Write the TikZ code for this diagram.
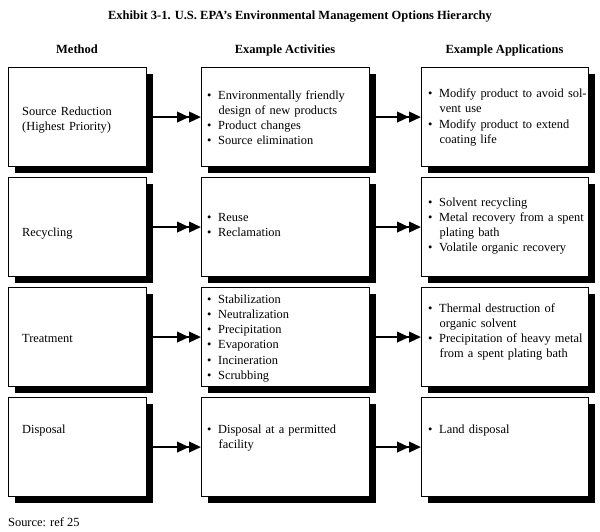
\documentclass[tikz,border=0pt]{standalone}
\usepackage{fontspec}
\setmainfont{Liberation Serif}
\usetikzlibrary{arrows.meta,shadows}
\newcommand\bl{\makebox[11pt][l]{\textbullet}}
\newcommand\ct{\hspace*{11.5pt}}
\begin{document}
\begin{tikzpicture}[x=1pt,y=1pt,
  box/.style={draw=black, line width=1.1pt, fill=white, inner sep=0pt, anchor=north west,
    minimum height=99pt,
    drop shadow={shadow xshift=6pt, shadow yshift=-6pt, opacity=1, fill=black}},
  box1/.style={box, minimum width=138pt},
  box2/.style={box, minimum width=168pt},
  box3/.style={box, minimum width=167pt},
  txt/.style={anchor=base west, inner sep=0pt, text width=175pt, align=left,
    font=\fontsize{12.4}{15.3}\selectfont},
  head/.style={anchor=base, inner sep=0pt, font=\fontsize{12.5}{15}\selectfont\bfseries},
  arr/.style={line width=2.4pt, -{Triangle[length=12pt,width=10.5pt]Triangle[length=12pt,width=10.5pt]}}
]
\useasboundingbox[fill=white] (0,0) rectangle (600,-531);

\node[head] (title) at (300,-19) {Exhibit 3-1. U.S. EPA’s Environmental Management Options Hierarchy};
\node[head] (h1) at (77,-53) {Method};
\node[head] (h2) at (285,-53) {Example Activities};
\node[head] (h3) at (504.5,-53) {Example Applications};

% row 1
\node[box1] (m1) at (8,-67) {};
\node[box2] (a1) at (201,-67) {};
\node[box3] (p1) at (421,-67) {};
% row 2
\node[box1] (m2) at (8,-177) {};
\node[box2] (a2) at (201,-177) {};
\node[box3] (p2) at (421,-177) {};
% row 3
\node[box1] (m3) at (8,-287) {};
\node[box2] (a3) at (201,-287) {};
\node[box3] (p3) at (421,-287) {};
% row 4
\node[box1] (m4) at (8,-397) {};
\node[box2] (a4) at (201,-397) {};
\node[box3] (p4) at (421,-397) {};

\node[txt] (tm1) at (22,-115.5) {Source Reduction\\(Highest Priority)};
\node[txt] (ta1) at (207,-99) {\bl Environmentally friendly\\\ct design of new products\\\bl Product changes\\\bl Source elimination};
\node[txt] (tp1) at (428,-97.5) {\bl Modify product to avoid sol-\\\ct vent use\\\bl Modify product to extend\\\ct coating life};

\node[txt] (tm2) at (22,-236) {Recycling};
\node[txt] (ta2) at (207,-221) {\bl Reuse\\\bl Reclamation};
\node[txt] (tp2) at (428,-206) {\bl Solvent recycling\\\bl Metal recovery from a spent\\\ct plating bath\\\bl Volatile organic recovery};

\node[txt] (tm3) at (22,-342) {Treatment};
\node[txt] (ta3) at (207,-303) {\bl Stabilization\\\bl Neutralization\\\bl Precipitation\\\bl Evaporation\\\bl Incineration\\\bl Scrubbing};
\node[txt] (tp3) at (428,-312) {\bl Thermal destruction of\\\ct organic solvent\\\bl Precipitation of heavy metal\\\ct from a spent plating bath};

\node[txt] (tm4) at (22,-433) {Disposal};
\node[txt] (ta4) at (207,-433) {\bl Disposal at a permitted\\\ct facility};
\node[txt] (tp4) at (428,-433) {\bl Land disposal};

\foreach \r in {1,2,3,4}{
  \draw[arr] ([xshift=6pt]m\r.east) -- (a\r.west);
  \draw[arr] ([xshift=6pt]a\r.east) -- (p\r.west);
}

\node[anchor=base west, inner sep=0pt, font=\fontsize{12.4}{15}\selectfont] (src) at (8,-526) {Source: ref 25};
\end{tikzpicture}
\end{document}
